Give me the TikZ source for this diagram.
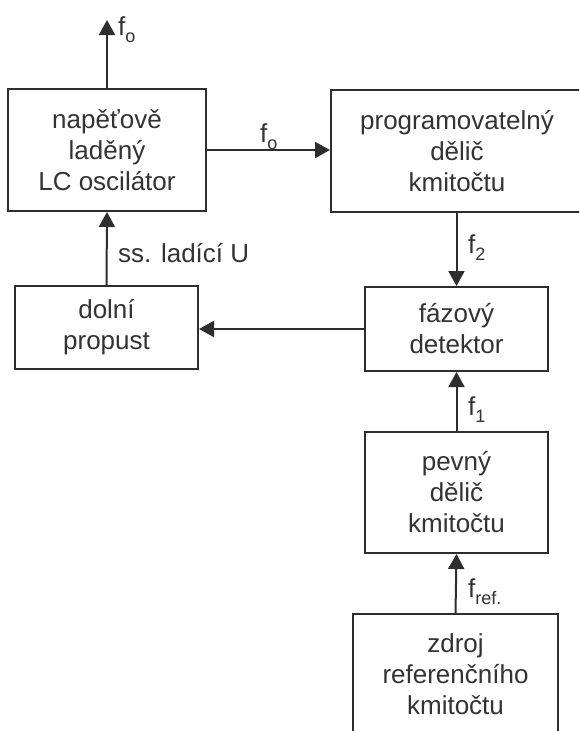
\documentclass[tikz,border=0pt]{standalone}
\usepackage{fontspec}
\setmainfont{Liberation Sans}
\usetikzlibrary{arrows.meta}
\definecolor{ink}{HTML}{2E2E2E}
\definecolor{txt}{HTML}{333333}
\newcommand{\fsub}[1]{f\raisebox{-0.3em}{\fontsize{18}{18}\selectfont #1}}
\begin{document}
\begin{tikzpicture}[x=1pt,y=-1pt,
  blk/.style={draw=ink,line width=2pt,inner sep=0pt,align=center,text=txt,
    font=\fontsize{26}{31}\selectfont},
  conn/.style={draw=ink,line width=2pt,-{Triangle[length=15pt,width=16pt]}},
  lbl/.style={text=txt,font=\fontsize{26}{31}\selectfont,inner sep=0pt,anchor=base west}]
\clip (0,0) rectangle (579,731);
\fill[white] (0,0) rectangle (579,731);
\node[blk,minimum width=198pt,minimum height=122pt] (osc) at (107,150) {napěťově\\laděný\\LC oscilátor};
\node[blk,minimum width=252pt,minimum height=122pt] (prog) at (457,151) {programovatelný\\dělič\\kmitočtu};
\node[blk,minimum width=183pt,minimum height=83pt] (dp) at (106.5,327.5) {dolní\\propust};
\node[blk,minimum width=183pt,minimum height=84pt] (faz) at (456.5,329) {fázový\\detektor};
\node[blk,minimum width=183pt,minimum height=121pt] (pev) at (456.5,492.5) {pevný\\dělič\\kmitočtu};
\node[blk,minimum width=205pt,minimum height=120pt] (zdr) at (455.5,674) {zdroj\\referenčního\\kmitočtu};
\coordinate (out) at (107,20);
\draw[conn] (osc.north) -- (out);
\draw[conn] (osc.east) -- (osc.east -| prog.west);
\draw[conn] (prog.south -| faz.north) -- (faz.north);
\draw[conn] (faz.west) -- (faz.west -| dp.east);
\draw[conn] (dp.north) -- (osc.south);
\draw[conn] (pev.north) -- (faz.south);
\draw[conn] (zdr.north) -- (pev.south);
\node[lbl] (l1) at (118,35) {\fsub{o}};
\node[lbl] (l2) at (260,142) {\fsub{o}};
\node[lbl] (l3) at (468,253) {\fsub{2}};
\node[lbl] (l4) at (118,262) {ss. ladící U};
\node[lbl] (l5) at (468,415) {\fsub{1}};
\node[lbl] (l6) at (468,597) {\fsub{ref.}};
\end{tikzpicture}
\end{document}
